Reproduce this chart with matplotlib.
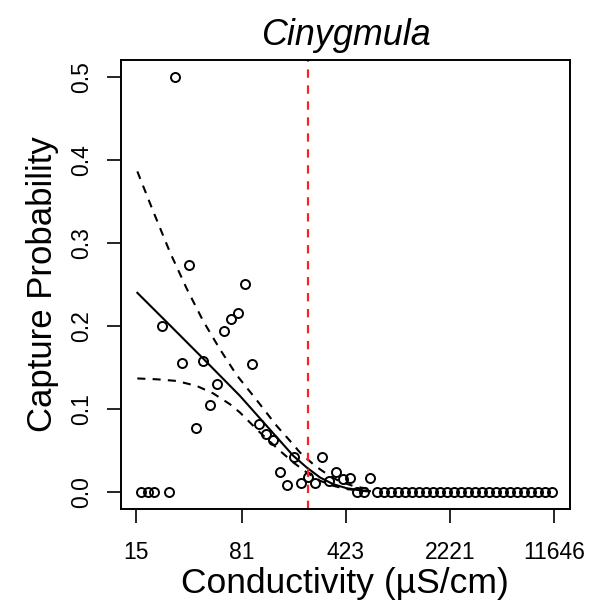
import matplotlib
matplotlib.use("Agg")
import matplotlib.pyplot as plt

plt.rcParams['font.family'] = ['Liberation Sans', 'DejaVu Sans']
plt.rcParams['lines.scale_dashes'] = False

# Observed capture probabilities at each conductivity bin (uS/cm)
conductivity = [16.1, 18.0, 20.1, 22.5, 25.2, 28.1, 31.4, 35.1, 39.2, 43.8,
                49.0, 54.7, 61.1, 68.3, 76.3, 85.2, 95.2, 106.4, 118.8, 132.8,
                148.3, 165.7, 185.2, 206.9, 231.2, 258.3, 288.6, 322.5, 360.3, 402.6,
                449.8, 502.5, 561.5, 627.3, 700.9, 783.1, 875.0, 977.6, 1092, 1220,
                1363, 1523, 1702, 1902, 2125, 2374, 2653, 2964, 3312, 3700,
                4134, 4619, 5161, 5766, 6443, 7198, 8043, 8986, 10040, 11218]
capture_prob = [0, 0, 0, 0.200, 0, 0.500, 0.155, 0.273, 0.077, 0.158,
                0.105, 0.130, 0.194, 0.208, 0.216, 0.250, 0.154, 0.082, 0.070, 0.063,
                0.025, 0.009, 0.042, 0.011, 0.018, 0.011, 0.042, 0.014, 0.024, 0.016,
                0.017, 0, 0, 0.017, 0, 0, 0, 0, 0, 0,
                0, 0, 0, 0, 0, 0, 0, 0, 0, 0,
                0, 0, 0, 0, 0, 0, 0, 0, 0, 0]

# Fitted curve and confidence bounds
fit_x = [15.3, 25.7, 44.2, 78.5, 107.9, 148.4, 183.4, 227.0, 280.5, 345.0, 429.1, 530.5, 621.9]
fit_y = [0.240, 0.201, 0.160, 0.116, 0.089, 0.062, 0.044, 0.030, 0.018, 0.010, 0.005, 0.0025, 0.0015]

upper_x = [15.3, 19.7, 25.7, 33.6, 43.7, 57.1, 74.5, 102.4, 140.8, 174.0, 204.0, 259.0, 320.1, 385.8, 489.8, 621.9]
upper_y = [0.386, 0.338, 0.289, 0.245, 0.206, 0.172, 0.141, 0.111, 0.080, 0.062, 0.048, 0.032, 0.021, 0.013, 0.007, 0.004]

lower_x = [15.3, 20.8, 28.6, 39.4, 51.3, 66.9, 78.5, 107.9, 148.4, 183.4, 227.0, 280.5, 345.0, 429.1, 530.5, 621.9]
lower_y = [0.137, 0.136, 0.134, 0.128, 0.119, 0.106, 0.096, 0.072, 0.050, 0.036, 0.024, 0.014, 0.008, 0.004, 0.002, 0.001]

threshold = 231

xtick_vals = [15, 81, 423, 2221, 11646]
xtick_labels = ['15', '81', '423', '2221', '11646']
ytick_vals = [0.0, 0.1, 0.2, 0.3, 0.4, 0.5]
ytick_labels = ['0.0', '0.1', '0.2', '0.3', '0.4', '0.5']

fig = plt.figure(figsize=(5.93, 6.09), dpi=100)
ax = fig.add_axes([0.204, 0.1642, 0.757, 0.7373])

ax.plot(conductivity, capture_prob, linestyle='none', marker='o', mfc='none',
        mec='black', ms=6.5, mew=1.4)
ax.plot(fit_x, fit_y, color='black', lw=1.5)
ax.plot(upper_x, upper_y, color='black', lw=1.5, dashes=(5.8, 5.2))
ax.plot(lower_x, lower_y, color='black', lw=1.5, dashes=(5.8, 5.2))
ax.axvline(threshold, color='#FF2020', lw=1.6, dashes=(6, 5.5))

ax.set_xscale('log')
ax.set_xlim(11.79, 15030)
ax.set_ylim(-0.02, 0.52)
ax.set_xticks(xtick_vals)
ax.set_xticklabels(xtick_labels)
ax.xaxis.set_minor_locator(matplotlib.ticker.NullLocator())
ax.set_yticks(ytick_vals)
ax.set_yticklabels(ytick_labels, rotation=90, va='center')

ax.tick_params(axis='both', direction='out', length=10, width=1.2, labelsize=16.5, colors='black')
ax.tick_params(axis='x', pad=13)
ax.tick_params(axis='y', pad=10)
for s in ax.spines.values():
    s.set_linewidth(1.4)

ax.set_xlabel('Conductivity (µS/cm)', fontsize=25.5, labelpad=2)
ax.set_ylabel('Capture Probability', fontsize=25, labelpad=8)
ax.set_title('Cinygmula', fontsize=25.8, style='italic', pad=11)

fig.savefig('out.png', dpi=100)
